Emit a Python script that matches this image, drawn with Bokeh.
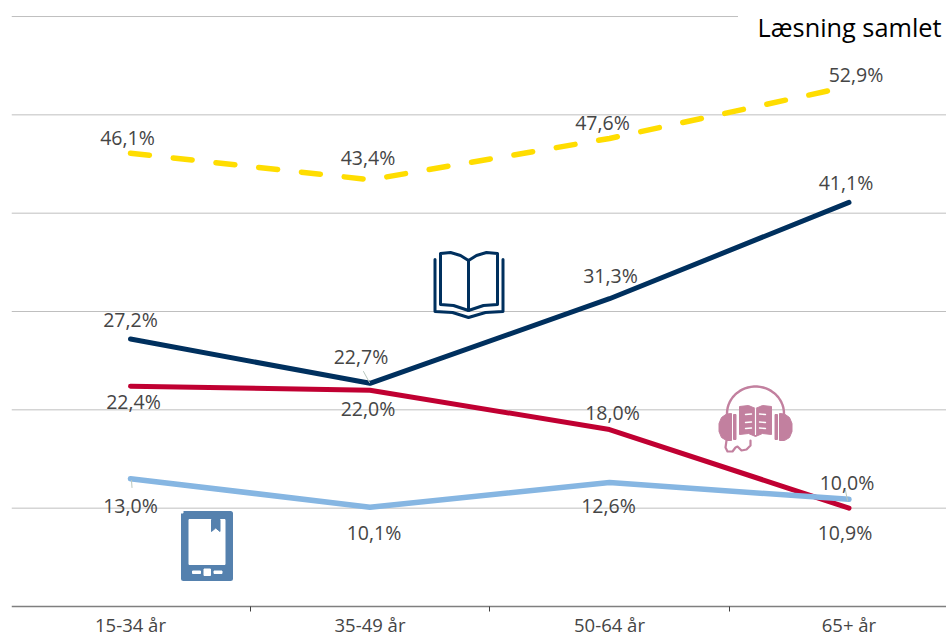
from bokeh.plotting import figure
from bokeh.models import Range1d, FixedTicker, LinearAxis
from bokeh.core.properties import value
from bokeh.embed import file_html
from bokeh.resources import INLINE
import numpy as np

categories = ["15-34 år", "35-49 år", "50-64 år", "65+ år"]
samlet = [46.1, 43.4, 47.6, 52.9]
bog = [27.2, 22.7, 31.3, 41.1]
lydbog = [22.4, 22.0, 18.0, 10.0]
ebog = [13.0, 10.1, 12.6, 10.9]
grid_values = [0, 10, 20, 30, 40, 50, 60]
title_text = "Læsning samlet"

samlet_off = [(-3, -16), (-2, -22), (-7, -16), (7, -12)]
bog_off = [(0, -20), (-9, -27), (1, -23), (-3, -20)]
lydbog_off = [(3, 15), (-2, 18), (3, -17), (-2, -26)]
ebog_off = [(0, 27), (4, 25), (-1, 23), (-4, 33)]

NAVY, RED, LIGHT, YELLOW = "#00305E", "#C00032", "#86B6E2", "#FFDD00"
PINK, TABLET = "#C2809F", "#5581AE"
xs = [0, 1, 2, 3]
X0, X1 = (11 - 130) / 239.5, (946 - 130) / 239.5

p = figure(width=946, height=636, output_backend="svg", toolbar_location=None,
           x_range=Range1d(X0, X1),
           y_range=Range1d(-30 / 9.833, 606 / 9.833), x_axis_location=None, y_axis_location=None,
           min_border_left=11, min_border_right=0, min_border_top=0, min_border_bottom=0,
           outline_line_color=None, background_fill_color="white", border_fill_color="white")
p.xgrid.visible = False
p.ygrid.visible = False
p.extra_x_ranges["px"] = Range1d(11, 946)
p.extra_y_ranges["px"] = Range1d(636, 0)

ax = LinearAxis(ticker=FixedTicker(ticks=xs, minor_ticks=[0.5, 1.5, 2.5]),
                major_label_overrides={i: c for i, c in zip(xs, categories)},
                fixed_location=0,
                axis_line_color="#7F7F7F", axis_line_width=1.6,
                major_tick_line_color=None, major_tick_out=0, major_tick_in=0,
                minor_tick_line_color="#404040", minor_tick_out=5, minor_tick_in=0,
                major_label_text_font="Open Sans", major_label_text_font_size="18.5px",
                major_label_text_color="#454545", major_label_standoff=0)
p.add_layout(ax, "below")

for v in grid_values[1:]:
    p.line([X0, X1], [v, v], line_color="#BFBFBF", line_width=1)

def px_patch(x, y, c):
    p.patch(x, y, fill_color=c, line_color=c, line_width=1, x_range_name="px", y_range_name="px")

def px_line(x, y, c, w):
    p.line(x, y, line_color=c, line_width=w, line_join="round", line_cap="round",
           x_range_name="px", y_range_name="px")

# title mask
px_patch([738, 946, 946, 738], [1, 1, 40, 40], "white")

# book icon
for x, y in [
    ([440, 450, 460, 468, 476, 486, 497, 497, 483, 468, 453, 440, 440], [253, 252, 255, 260, 255, 252, 253, 304, 305, 310, 305, 304, 253]),
    ([468, 468], [260, 310]),
    ([434.5, 434.5, 452, 468, 485, 502.5, 502.5], [259, 311, 312, 317, 312, 311, 259]),
]:
    px_line(x, y, NAVY, 3)

# audiobook icon
t = np.linspace(np.pi, 0, 30)
px_line(755 + 28.5 * np.cos(t), 413 - 27 * np.sin(t), PINK, 2.4)
px_patch([731, 726, 721, 718.5, 718.5, 721, 726, 731], [413, 413.5, 417, 423, 431, 437, 440, 440], PINK)
px_patch([779, 784, 789, 791.5, 791.5, 789, 784, 779], [413, 413.5, 417, 423, 431, 437, 440, 440], PINK)
px_patch([733, 735.5, 735.5, 733], [414, 414, 439, 439], PINK)
px_patch([774.5, 777, 777, 774.5], [414, 414, 439, 439], PINK)
px_patch([739, 748, 755, 762, 771, 771, 762, 755, 748, 739],
         [406, 405, 408, 405, 406, 434, 433, 436, 433, 434], PINK)
for y0 in [414, 422, 428]:
    px_line([745, 751], [y0, y0 - 0.5], "white", 1.4)
    px_line([759, 765], [y0 - 0.5, y0], "white", 1.4)
px_line([755, 755], [408, 434], "white", 1.2)
px_line([726, 725, 727, 732, 735, 737, 741, 746, 750, 750],
        [440, 447, 451, 451, 447, 446, 450, 449, 445, 440], PINK, 2.2)

# tablet icon
px_patch([183, 230, 230, 183], [513, 513, 578, 578], TABLET)
p.line([183, 230, 230, 183, 183], [513, 513, 578, 578, 513], line_color=TABLET, line_width=5,
       line_join="round", x_range_name="px", y_range_name="px")
px_patch([188.5, 224.5, 224.5, 188.5], [519, 519, 564, 564], "white")
px_patch([211, 219.5, 219.5, 215.2, 211], [519, 519, 531, 527.5, 531], TABLET)
px_patch([203.5, 210, 210, 203.5], [568.5, 568.5, 575, 575], "white")
px_patch([192, 200, 200, 192], [570.5, 570.5, 573, 573], "white")
px_patch([213.5, 221.5, 221.5, 213.5], [570.5, 570.5, 573, 573], "white")

# series
p.line(xs, samlet, line_color=YELLOW, line_width=5.5, line_dash="19 24", line_cap="round", line_join="round")
p.line(xs, bog, line_color=NAVY, line_width=5, line_cap="round", line_join="round")
p.line(xs, lydbog, line_color=RED, line_width=5, line_cap="round", line_join="round")
p.line(xs, ebog, line_color=LIGHT, line_width=5.5, line_cap="round", line_join="round")

# leader lines
px_line([363, 369], [371, 382], "#B9C7BE", 1)
px_line([131.5, 131], [487, 480], "#B9C7BE", 1)
px_line([845, 847], [490, 500], "#B9C7BE", 1)

for vals, off in [(samlet, samlet_off), (bog, bog_off), (lydbog, lydbog_off), (ebog, ebog_off)]:
    p.text(xs, vals, text=[f"{v:.1f}%".replace(".", ",") for v in vals],
           x_offset=[o[0] for o in off], y_offset=[o[1] for o in off],
           text_font=value("Open Sans"), text_font_size="19.5px", text_color="#454545",
           text_align="center", text_baseline="middle")

p.text([941], [26], text=[title_text], text_font=value("Open Sans"), text_font_size="25.3px",
       text_color="#000000", text_align="right", text_baseline="middle",
       x_range_name="px", y_range_name="px")

open("out.html", "w").write(file_html(p, INLINE))
